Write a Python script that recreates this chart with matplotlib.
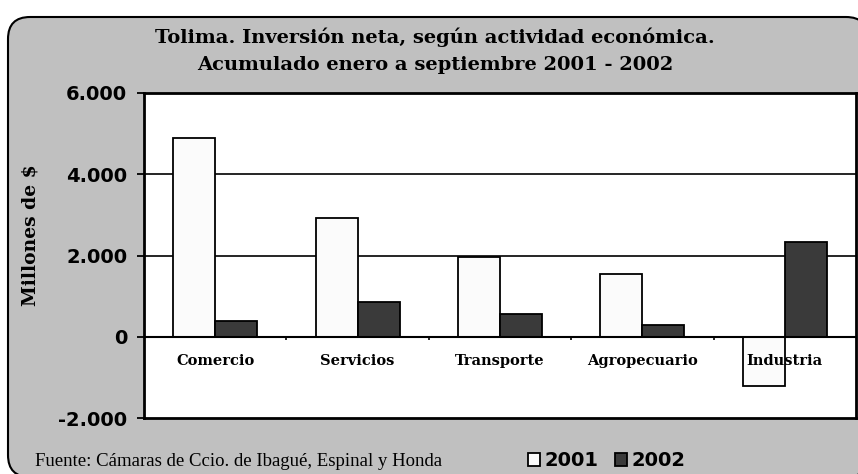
import numpy as np
import matplotlib
matplotlib.use("Agg")
import matplotlib.pyplot as plt
from matplotlib.patches import FancyBboxPatch

# data
categories = ["Comercio", "Servicios", "Transporte", "Agropecuario", "Industria"]
v2001 = [4890, 2935, 1960, 1540, -1205]
v2002 = [380, 845, 565, 290, 2330]
yticks = [-2000, 0, 2000, 4000, 6000]
title = "Tolima. Inversión neta, según actividad económica.\nAcumulado enero a septiembre 2001 - 2002"
source = "Fuente: Cámaras de Ccio. de Ibagué, Espinal y Honda"

W, H = 858, 474
fig = plt.figure(figsize=(W / 100, H / 100), dpi=100)
fig.patch.set_facecolor("white")

# rounded gray frame
frame = FancyBboxPatch((0.08, -0.03), 8.6, 4.60, boxstyle="round,pad=0,rounding_size=0.22",
                       transform=fig.dpi_scale_trans, facecolor="#c0c0c0",
                       edgecolor="black", linewidth=1.5, zorder=-5)
fig.patches.append(frame)

ax = fig.add_axes([144 / W, 1 - 418 / H, 712 / W, 325 / H])
ax.set_zorder(2)
ax.set_facecolor("white")

x = np.arange(len(categories))
w = 0.295
b1 = ax.bar(x - w / 2, v2001, w, color="#fbfbfb", edgecolor="black", linewidth=1.3, label="2001", zorder=3)
b2 = ax.bar(x + w / 2, v2002, w, color="#3a3a3a", edgecolor="black", linewidth=1.3, label="2002", zorder=3)

ax.set_xlim(-0.5, len(categories) - 0.5)
ax.set_ylim(-2000, 6000)
ax.set_yticks(yticks)
ax.set_yticklabels([f"{v:,.0f}".replace(",", ".") for v in yticks],
                   fontfamily="DejaVu Sans", fontweight="bold", fontsize=14)
ax.tick_params(axis="y", direction="out", length=5, width=1.3, pad=7)
ax.set_xticks([])
for v in yticks[2:]:
    ax.axhline(v, color="black", linewidth=1.2, zorder=1)
ax.axhline(0, color="black", linewidth=1.5, zorder=4)
ax.vlines(x[:-1] + 0.5, -70, 0, color="black", linewidth=1.2, zorder=4)
for s in ax.spines.values():
    s.set_linewidth(2)
    s.set_color("black")

for i, c in enumerate(categories):
    ax.annotate(c, (i, 0), xytext=(0, -17.5), textcoords="offset points",
                ha="center", va="center", fontfamily="DejaVu Serif",
                fontweight="bold", fontsize=10.5, zorder=5)

fig.text(435 / W, 1 - 51 / H, title, ha="center", va="center", fontfamily="DejaVu Serif",
         fontweight="bold", fontsize=14, linespacing=1.65)
fig.text(30 / W, 1 - 235 / H, "Millones de $", rotation=90, ha="center", va="center",
         fontfamily="DejaVu Serif", fontweight="bold", fontsize=13.5)
fig.text(35 / W, 1 - 462 / H, source, ha="left", va="center",
         fontfamily="Liberation Serif", fontsize=13.5)

fig.legend(handles=[b1, b2], loc="center left", bbox_to_anchor=(518 / W, 1 - 461 / H),
           ncol=2, frameon=False, handlelength=0.65, handleheight=0.6, handletextpad=0.2,
           columnspacing=0.85, borderpad=0, prop={"family": "DejaVu Sans", "weight": "bold", "size": 14})

fig.savefig("out.png", dpi=100, facecolor=fig.get_facecolor())
